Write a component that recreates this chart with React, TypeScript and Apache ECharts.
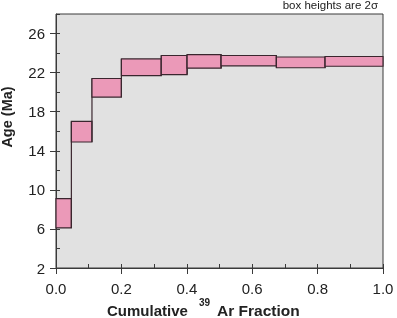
import React, { useEffect, useRef } from 'react';
import * as echarts from 'echarts';

// Step-heating spectrum: cumulative fraction boundaries and 2-sigma age ranges (Ma)
const stepStart = [0.0, 0.047, 0.11, 0.2, 0.322, 0.401, 0.505, 0.674, 0.823];
const stepEnd = [0.047, 0.11, 0.2, 0.322, 0.401, 0.505, 0.674, 0.823, 1.0];
const ageLow = [6.1, 14.9, 19.5, 21.7, 21.8, 22.45, 22.7, 22.5, 22.65];
const ageHigh = [9.1, 17.0, 21.4, 23.4, 23.75, 23.85, 23.75, 23.6, 23.65];

const xMajorTicks = [0, 0.2, 0.4, 0.6, 0.8, 1.0];
const xMinorTicks = [0.1, 0.3, 0.5, 0.7, 0.9];
const yMajorTicks = [2, 6, 10, 14, 18, 22, 26];
const yMinorTicks = [4, 8, 12, 16, 20, 24, 28];

const FONT = 'Liberation Sans, Arial, Helvetica, sans-serif';
const AXIS_COLOR = '#3a3a3a';
const BOX_FILL = '#eb99b8';
const BOX_STROKE = '#3a262e';

export default function App() {
  const ref = useRef<HTMLDivElement>(null);

  useEffect(() => {
    document.body.style.margin = '0';
    if (!ref.current) return;
    const chart = echarts.init(ref.current, null, { renderer: 'svg' });

    const data = stepStart.map((s, i) => [
      s,
      stepEnd[i],
      ageLow[i],
      ageHigh[i],
      i > 0 ? ageLow[i - 1] : ageLow[i],
      i > 0 ? ageHigh[i - 1] : ageHigh[i],
    ]);

    const tickStyle = { color: AXIS_COLOR, width: 1 };

    chart.setOption({
      animation: false,
      grid: {
        left: 56,
        top: 14,
        width: 327,
        height: 254,
        show: true,
        backgroundColor: '#e1e1e1',
        borderColor: AXIS_COLOR,
        borderWidth: 1,
      },
      xAxis: [
        {
          type: 'value',
          min: 0,
          max: 1,
          position: 'bottom',
          axisLine: { show: true, onZero: false, lineStyle: tickStyle },
          axisTick: {
            show: true,
            inside: true,
            length: 4,
            customValues: [...xMajorTicks, ...xMinorTicks],
            lineStyle: tickStyle,
          },
          axisLabel: { show: false },
          splitLine: { show: false },
        },
        {
          type: 'value',
          min: 0,
          max: 1,
          position: 'bottom',
          axisLine: { show: false, onZero: false },
          axisTick: {
            show: true,
            inside: false,
            length: 6,
            customValues: xMajorTicks,
            lineStyle: tickStyle,
          },
          axisLabel: {
            show: true,
            customValues: xMajorTicks,
            formatter: (v: number) => v.toFixed(1),
            margin: 13,
            fontSize: 15,
            color: '#222',
            fontFamily: FONT,
          },
          splitLine: { show: false },
        },
      ],
      yAxis: [
        {
          type: 'value',
          min: 2,
          max: 28,
          position: 'left',
          axisLine: { show: true, onZero: false, lineStyle: tickStyle },
          axisTick: {
            show: true,
            inside: true,
            length: 4,
            customValues: [...yMajorTicks, ...yMinorTicks],
            lineStyle: tickStyle,
          },
          axisLabel: { show: false },
          splitLine: { show: false },
        },
        {
          type: 'value',
          min: 2,
          max: 28,
          position: 'left',
          axisLine: { show: false, onZero: false },
          axisTick: {
            show: true,
            inside: false,
            length: 6,
            customValues: yMajorTicks,
            lineStyle: tickStyle,
          },
          axisLabel: {
            show: true,
            customValues: yMajorTicks,
            margin: 11,
            fontSize: 15,
            color: '#222',
            fontFamily: FONT,
          },
          splitLine: { show: false },
        },
      ],
      series: [
        {
          type: 'custom',
          xAxisIndex: 0,
          yAxisIndex: 0,
          encode: { x: [0, 1], y: [2, 3] },
          data,
          renderItem: (params: any, api: any) => {
            const i = params.dataIndex;
            const tl = api.coord([api.value(0), api.value(3)]);
            const br = api.coord([api.value(1), api.value(2)]);
            const children: any[] = [];
            if (i > 0) {
              const lo = Math.min(api.value(2), api.value(4));
              const hi = Math.max(api.value(3), api.value(5));
              const a = api.coord([api.value(0), lo]);
              const b = api.coord([api.value(0), hi]);
              children.push({
                type: 'line',
                shape: { x1: a[0], y1: a[1], x2: b[0], y2: b[1] },
                style: { stroke: BOX_STROKE, lineWidth: 1.2 },
              });
            }
            children.push({
              type: 'rect',
              shape: { x: tl[0], y: tl[1], width: br[0] - tl[0], height: br[1] - tl[1] },
              style: { fill: BOX_FILL, stroke: BOX_STROKE, lineWidth: 1.2 },
            });
            return { type: 'group', children };
          },
        },
      ],
      graphic: [
        {
          type: 'text',
          x: 378,
          y: 5,
          style: {
            text: 'box heights are 2σ',
            align: 'right',
            verticalAlign: 'middle',
            fontSize: 11.5,
            fontFamily: FONT,
            fill: '#222',
          },
        },
        {
          type: 'text',
          x: 7,
          y: 117,
          rotation: Math.PI / 2,
          style: {
            text: 'Age (Ma)',
            align: 'center',
            verticalAlign: 'middle',
            fontSize: 14.5,
            fontWeight: 'bold',
            fontFamily: FONT,
            fill: '#222',
          },
        },
        {
          type: 'text',
          x: 107,
          y: 310.5,
          style: {
            text: 'Cumulative',
            align: 'left',
            verticalAlign: 'middle',
            fontSize: 15,
            fontWeight: 'bold',
            fontFamily: FONT,
            fill: '#222',
          },
        },
        {
          type: 'text',
          x: 199,
          y: 302.5,
          style: {
            text: '39',
            align: 'left',
            verticalAlign: 'middle',
            fontSize: 10,
            fontWeight: 'bold',
            fontFamily: FONT,
            fill: '#222',
          },
        },
        {
          type: 'text',
          x: 217,
          y: 310.5,
          style: {
            text: 'Ar Fraction',
            align: 'left',
            verticalAlign: 'middle',
            fontSize: 15.5,
            fontWeight: 'bold',
            fontFamily: FONT,
            fill: '#222',
          },
        },
      ],
    });

    return () => chart.dispose();
  }, []);

  return (
    <div
      ref={ref}
      style={{ position: 'fixed', left: 0, top: 0, width: 397, height: 318 }}
    />
  );
}
